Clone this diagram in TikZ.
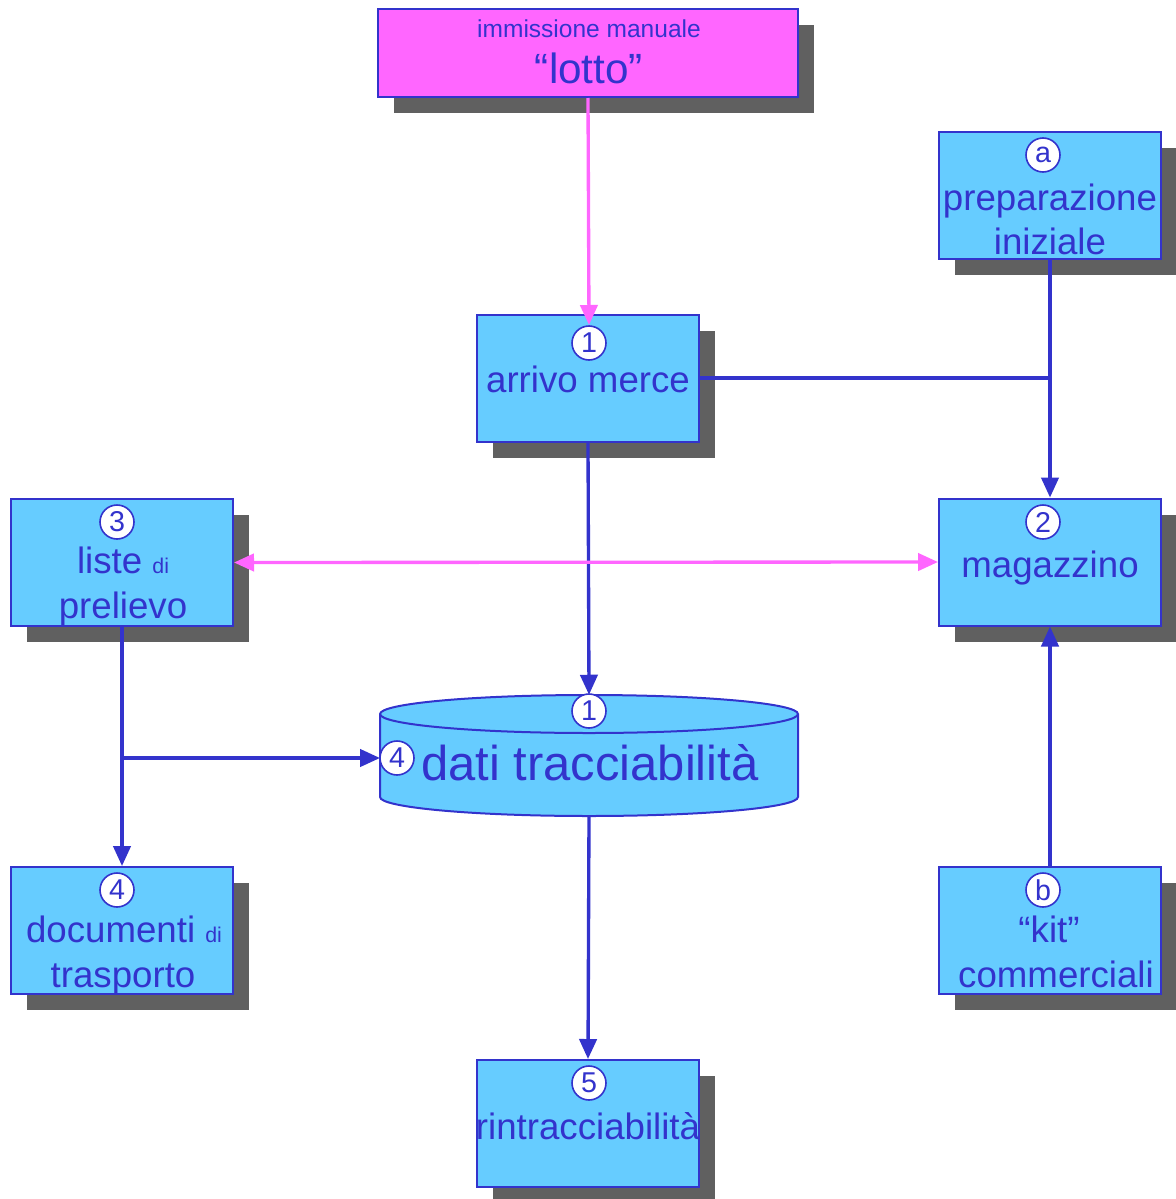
\documentclass[tikz,border=0pt]{standalone}
\usepackage{fontspec}
\setmainfont{Liberation Sans}
\usetikzlibrary{arrows.meta,shadows}
\definecolor{bluefill}{HTML}{66CCFF}
\definecolor{blueline}{HTML}{3333CC}
\definecolor{pinkc}{HTML}{FF66FF}
\definecolor{shadowc}{HTML}{606060}
\begin{document}
\begin{tikzpicture}[x=0.75pt,y=-0.75pt,
  box/.style={draw=blueline,fill=bluefill,line width=1.5pt,minimum width=166.5pt,minimum height=95.25pt,inner sep=0pt,
    drop shadow={shadow xshift=12pt,shadow yshift=-12pt,opacity=1,fill=shadowc}},
  pinkbox/.style={box,fill=pinkc,minimum width=315pt,minimum height=66pt},
  txt/.style={text=blueline,font=\fontsize{27.5}{30}\selectfont,inner sep=0pt,anchor=base},
  smalltxt/.style={txt,font=\fontsize{18.4}{22}\selectfont},
  bigtxt/.style={txt,font=\fontsize{36.7}{40}\selectfont},
  lottotxt/.style={txt,font=\fontsize{31.7}{36}\selectfont},
  numc/.style={circle,draw=blueline,fill=white,line width=1.2pt,minimum size=25.5pt,inner sep=0pt,text=blueline,font=\fontsize{21.5}{21.5}\selectfont},
  conn/.style={draw=blueline,line width=2.5pt},
  pconn/.style={draw=pinkc,line width=2.5pt},
  tip/.style={-{Triangle[length=15pt,width=13pt]}},
  dtip/.style={{Triangle[length=15pt,width=13pt]}-{Triangle[length=15pt,width=13pt]}}
]
\useasboundingbox (0,0) rectangle (1176,1199);

% boxes
\node[pinkbox] (lotto) at (588,53) {};
\node[box] (arrivo) at (588,378) {};
\node[box] (prep) at (1050,195) {};
\node[box] (mag) at (1050,562) {};
\node[box] (liste) at (122,562.5) {};
\node[box] (doc) at (122,930.5) {};
\node[box] (kit) at (1050,930.5) {};
\node[box] (rintr) at (588,1123.5) {};

% cylinder
\node[minimum width=313.5pt,minimum height=90pt,inner sep=0pt] (cyl) at (589,755) {};
\fill[bluefill] (380,714) -- (380,797) arc[start angle=180,end angle=360,x radius=156.75pt,y radius=14.25pt]
  -- (798,714) arc[start angle=0,end angle=180,x radius=156.75pt,y radius=14.25pt] -- cycle;
\draw[blueline,line width=1.5pt] (380,714) -- (380,797) arc[start angle=180,end angle=360,x radius=156.75pt,y radius=14.25pt]
  -- (798,714) arc[start angle=0,end angle=180,x radius=156.75pt,y radius=14.25pt] -- cycle;
\draw[blueline,line width=1.5pt] (380,714) arc[start angle=180,end angle=360,x radius=156.75pt,y radius=14.25pt];
\coordinate (cylw) at (380,758);
\coordinate (branch) at (123,758);
\coordinate (arrtip) at (589,325);

% texts
\node[smalltxt] (t-imm) at (589,37) {immissione manuale};
\node[lottotxt] (t-lotto) at (589,83) {“lotto”};
\node[txt] (t-arrivo) at (588,392) {arrivo merce};
\node[txt] (t-prep1) at (1050,210) {preparazione};
\node[txt] (t-prep2) at (1050,254) {iniziale};
\node[txt] (t-mag) at (1050,577) {magazzino};
\node[txt] (t-liste1) at (123,573) {liste {\fontsize{16}{18}\selectfont di}};
\node[txt] (t-liste2) at (123,618) {prelievo};
\node[txt] (t-doc1) at (124,942) {documenti {\fontsize{16}{18}\selectfont di}};
\node[txt] (t-doc2) at (123,987) {trasporto};
\node[txt] (t-kit1) at (1049,942) {“kit”};
\node[txt] (t-kit2) at (1056,987) {commerciali};
\node[txt] (t-rintr) at (588,1139) {rintracciabilità};
\node[bigtxt] (t-cyl) at (590,780) {dati tracciabilità};

% connectors
\draw[pconn,tip] (lotto.south) -- (arrtip);
\draw[conn] (arrivo.east) -- (prep.south |- arrivo.east);
\draw[conn,tip] (prep.south) -- (mag.north);
\draw[conn,tip] (arrivo.south) -- (cyl.north);
\draw[pconn,dtip] (liste.east) -- (mag.west);
\draw[conn,tip] (liste.south) -- (doc.north);
\draw[conn,tip] (branch) -- (cylw);
\draw[conn,tip] (kit.north) -- (mag.south);
\draw[conn,tip] (cyl.south) -- (rintr.north);

% number circles
\node[numc] (n-arrivo) at (589,343) {1};
\node[numc] (n-prep) at (1043,155) {a};
\node[numc] (n-mag) at (1043,522) {2};
\node[numc] (n-liste) at (117,522) {3};
\node[numc] (n-cyl1) at (589,711) {1};
\node[numc] (n-cyl4) at (397,758) {4};
\node[numc] (n-doc) at (117,890) {4};
\node[numc] (n-kit) at (1043,890) {b};
\node[numc] (n-rintr) at (589,1083) {5};
\end{tikzpicture}
\end{document}
